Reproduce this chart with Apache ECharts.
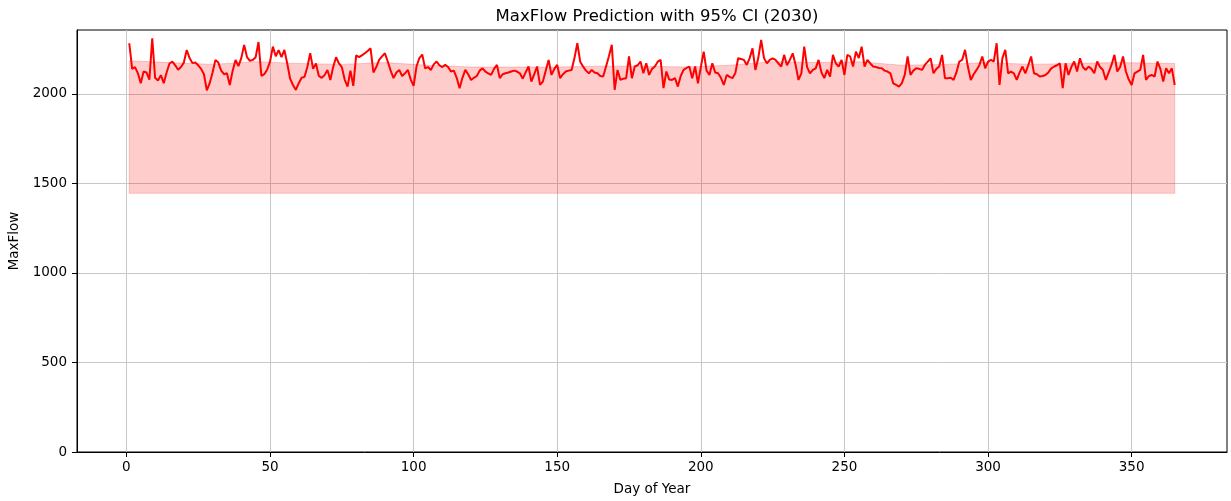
<!DOCTYPE html>
<html>
<head>
<meta charset="utf-8">
<script src="https://cdn.jsdelivr.net/npm/echarts@6/dist/echarts.min.js"></script>
<style>
  html, body { margin: 0; padding: 0; background: #ffffff; }
  #chart { width: 1231px; height: 501px; }
</style>
</head>
<body>
<div id="chart"></div>
<script>
// Daily predicted maximum flow for 2030 (day 1 .. 365)
const maxFlow = [
  2283, 2140, 2150, 2115, 2060, 2125, 2120, 2080, 2310, 2090,
  2075, 2105, 2060, 2120, 2170, 2180, 2160, 2135, 2150, 2175,
  2245, 2200, 2172, 2175, 2160, 2140, 2110, 2020, 2060, 2120,
  2190, 2175, 2130, 2110, 2115, 2050, 2130, 2190, 2155, 2200,
  2274, 2205, 2185, 2190, 2205, 2290, 2100, 2110, 2135, 2180,
  2264, 2210, 2245, 2205, 2246, 2170, 2085, 2050, 2022, 2060,
  2090, 2095, 2150, 2227, 2140, 2170, 2100, 2090, 2105, 2134,
  2078, 2150, 2205, 2170, 2150, 2080, 2041, 2130, 2045, 2215,
  2205, 2215, 2227, 2240, 2255, 2120, 2150, 2190, 2210, 2227,
  2181, 2130, 2088, 2120, 2134, 2100, 2115, 2134, 2080, 2045,
  2153, 2200, 2220, 2143, 2150, 2134, 2165, 2181, 2160, 2150,
  2162, 2150, 2125, 2130, 2090, 2032, 2090, 2134, 2110, 2078,
  2090, 2100, 2130, 2143, 2125, 2115, 2106, 2140, 2162, 2088,
  2110, 2115, 2120, 2125, 2130, 2125, 2115, 2085, 2120, 2153,
  2069, 2110, 2153, 2050, 2069, 2130, 2190, 2106, 2140, 2162,
  2088, 2110, 2125, 2130, 2134, 2200, 2283, 2180, 2153, 2130,
  2115, 2134, 2120, 2115, 2100, 2097, 2153, 2210, 2274, 2022,
  2134, 2078, 2085, 2088, 2209, 2088, 2153, 2160, 2181, 2115,
  2171, 2106, 2140, 2153, 2180, 2190, 2032, 2125, 2080, 2078,
  2088, 2041, 2100, 2134, 2145, 2153, 2088, 2153, 2059, 2150,
  2236, 2130, 2106, 2171, 2120, 2115, 2090, 2050, 2106, 2095,
  2088, 2115, 2199, 2195, 2190, 2162, 2200, 2255, 2134, 2200,
  2302, 2200, 2171, 2190, 2199, 2190, 2170, 2153, 2218, 2160,
  2190, 2227, 2162, 2078, 2115, 2264, 2150, 2115, 2134, 2143,
  2190, 2120, 2088, 2134, 2097, 2218, 2170, 2153, 2190, 2106,
  2218, 2209, 2153, 2236, 2200, 2264, 2153, 2190, 2170, 2153,
  2150, 2145, 2143, 2130, 2125, 2115, 2059, 2050, 2041, 2060,
  2106, 2209, 2106, 2130, 2143, 2140, 2134, 2162, 2180, 2199,
  2115, 2140, 2153, 2218, 2088, 2088, 2090, 2078, 2120, 2181,
  2190, 2246, 2150, 2078, 2110, 2134, 2162, 2209, 2143, 2180,
  2190, 2181, 2283, 2050, 2200, 2246, 2115, 2125, 2115, 2078,
  2120, 2153, 2115, 2160, 2209, 2115, 2110, 2097, 2100, 2106,
  2120, 2143, 2153, 2160, 2171, 2032, 2171, 2106, 2150, 2181,
  2125, 2199, 2150, 2134, 2153, 2140, 2115, 2181, 2150, 2134,
  2078, 2120, 2162, 2218, 2125, 2150, 2209, 2125, 2080, 2050,
  2115, 2125, 2134, 2218, 2078, 2100, 2106, 2097, 2181, 2140,
  2069, 2143, 2115, 2143, 2050
];

// 95% confidence interval bounds, given at selected days
const ciDays  = [1, 15, 30, 45, 60, 75, 90, 105, 120, 135, 150, 165, 180,
                 195, 210, 225, 240, 255, 270, 285, 300, 315, 330, 345, 365];
const ciUpper = [2185, 2175, 2165, 2180, 2170, 2165, 2175, 2160, 2150, 2150, 2150, 2155, 2155,
                 2150, 2160, 2180, 2175, 2180, 2160, 2165, 2175, 2165, 2170, 2175, 2170];
const ciLower = [1445, 1445, 1445, 1445, 1445, 1445, 1445, 1445, 1445, 1445, 1445, 1445, 1445,
                 1445, 1445, 1445, 1445, 1445, 1445, 1445, 1445, 1445, 1445, 1445, 1445];

// Axis tick positions
const xTicks = [0, 50, 100, 150, 200, 250, 300, 350];
const yTicks = [0, 500, 1000, 1500, 2000];

const dayOfYear = maxFlow.map((_, i) => i + 1);
const linePoints = dayOfYear.map((d, i) => [d, maxFlow[i]]);
const bandRows = ciDays.map((d, i) => [d, ciLower[i], ciUpper[i]]);

const FONT = 'DejaVu Sans';
const chart = echarts.init(document.getElementById('chart'), null, { renderer: 'canvas' });

// Confidence band: one polygon through the upper bound and back along the lower bound
function renderBand(params, api) {
  if (params.dataIndex !== 0) return null;
  const upper = bandRows.map(r => api.coord([r[0], r[2]]));
  const lower = bandRows.slice().reverse().map(r => api.coord([r[0], r[1]]));
  return {
    type: 'polygon',
    shape: { points: upper.concat(lower) },
    style: { fill: 'rgba(255,0,0,0.2)', stroke: 'rgba(255,0,0,0.2)', lineWidth: 1 },
    silent: true
  };
}

chart.setOption({
  animation: false,
  backgroundColor: '#ffffff',
  textStyle: { fontFamily: FONT, color: '#000' },
  title: {
    text: 'MaxFlow Prediction with 95% CI (2030)',
    left: 652,
    textAlign: 'center',
    top: 3,
    textStyle: { fontFamily: FONT, fontSize: 16.5, fontWeight: 'normal', color: '#000' }
  },
  grid: {
    left: 77, right: 4, top: 30, bottom: 49,
    outerBoundsMode: 'none',
    containLabel: false,
    show: true, borderColor: '#000', borderWidth: 1, backgroundColor: 'transparent'
  },
  xAxis: {
    type: 'value',
    min: -17.2,
    max: 383.2,
    name: 'Day of Year',
    nameLocation: 'middle',
    nameGap: 30,
    nameTextStyle: { fontFamily: FONT, fontSize: 13.5, color: '#000' },
    axisLine: { onZero: false, lineStyle: { color: '#000', width: 1 } },
    axisTick: { show: true, length: 5, customValues: xTicks, lineStyle: { color: '#000', width: 1 } },
    axisLabel: { customValues: xTicks, formatter: v => String(v), fontFamily: FONT, fontSize: 13.5, color: '#000', margin: 8 },
    splitLine: { show: true, lineStyle: { color: '#c8c8c8', width: 1 } }
  },
  yAxis: {
    type: 'value',
    min: 0,
    max: 2357,
    name: 'MaxFlow',
    nameLocation: 'middle',
    nameGap: 47,
    nameTextStyle: { fontFamily: FONT, fontSize: 13.5, color: '#000' },
    axisLine: { show: true, onZero: false, lineStyle: { color: '#000', width: 1 } },
    axisTick: { show: true, length: 5, customValues: yTicks, lineStyle: { color: '#000', width: 1 } },
    axisLabel: { customValues: yTicks, formatter: v => String(v), fontFamily: FONT, fontSize: 13.5, color: '#000', margin: 10 },
    splitLine: { show: true, lineStyle: { color: '#c8c8c8', width: 1 } }
  },
  series: [
    {
      name: '95% CI',
      type: 'custom',
      data: bandRows,
      encode: { x: 0, y: [1, 2] },
      renderItem: renderBand,
      silent: true,
      z: 1
    },
    {
      name: 'MaxFlow',
      type: 'line',
      data: linePoints,
      symbol: 'none',
      lineStyle: { color: '#ff0000', width: 2 },
      z: 3
    }
  ]
});
</script>
</body>
</html>
